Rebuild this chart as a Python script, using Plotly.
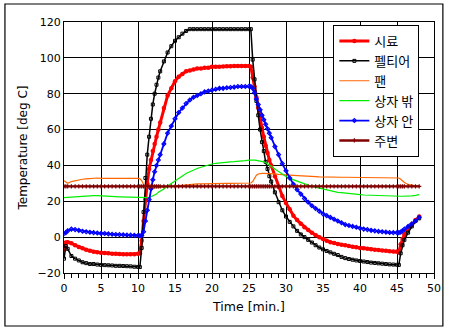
import plotly.graph_objects as go

time_min = [0, 0.25, 0.5, 1, 1.5, 2, 2.5, 3, 3.5, 4, 4.5, 5, 5.5, 6, 6.5, 7, 7.5, 8, 8.5, 9, 9.5, 10,
            10.25, 10.5, 10.75, 11, 11.25, 11.5, 11.75, 12, 12.25, 12.5, 12.75,
            13, 13.5, 14, 14.5, 15, 15.5, 16, 16.5, 17, 17.5, 18, 18.5, 19, 19.5, 20, 20.5, 21, 21.5,
            22, 22.5, 23, 23.5, 24, 24.5, 25,
            25.25, 25.5, 25.75, 26, 26.25, 26.5, 26.75, 27, 27.25, 27.5, 27.75,
            28, 28.5, 29, 29.5, 30, 30.5, 31, 31.5, 32, 32.5, 33, 33.5, 34, 34.5, 35, 35.5, 36, 36.5,
            37, 37.5, 38, 38.5, 39, 39.5, 40, 40.5, 41, 41.5, 42, 42.5, 43, 43.5, 44, 44.5, 45,
            45.25, 45.5, 45.75, 46, 46.5, 47, 47.5, 48]

sample = [-7, -3, -2.8, -3.4, -4.5, -5.5, -6.2, -7, -7.6, -8.1, -8.4, -8.7, -8.9, -9, -9.2, -9.3, -9.4, -9.5, -9.6, -9.6, -9.5, -9.3,
          -9, -2, 9, 21, 30, 38, 43, 48, 52, 56, 60,
          64, 72, 79, 83, 87, 89.5, 91, 92.5, 93, 93.5, 94, 94, 94.5, 94.5, 95, 95, 95, 95.2,
          95.3, 95.3, 95.4, 95.5, 95.5, 95.5, 95.5,
          95, 89, 84, 78, 72, 67, 61, 56, 51, 47, 43,
          40, 34, 28, 23, 19, 15.5, 12, 9.5, 7.5, 5.5, 4, 2.5, 1, 0, -1, -2, -2.8, -3.3,
          -3.8, -4.2, -4.5, -5, -5.3, -5.6, -6, -6.2, -6.5, -6.7, -7, -7.2, -7.4, -7.6, -7.8, -8, -8,
          -8.5, -4, -1, 1.5, 4.5, 7, 9.5, 11.5]

peltier = [-12, -5, -6.5, -10.5, -12, -13, -14, -14.5, -15, -15, -15.3, -15.5, -15.6, -15.7, -15.8, -16, -16, -16.1, -16.2, -16.3, -16.5, -16.6,
           -16.7, -6, 14, 33, 46, 56, 66, 74, 80, 85, 89,
           92.5, 98, 103, 106.5, 109.5, 111.5, 113.5, 115, 116, 116, 116, 116, 116, 116, 116, 116, 116, 116,
           116, 116, 116, 116, 116, 116, 116,
           116, 99, 88, 76, 68, 60, 53, 48, 42, 38, 34,
           31, 25, 19.5, 15, 11.5, 8.5, 6, 3.5, 1.5, 0, -1.5, -3, -4.5, -5.8, -6.8, -7.7, -8.5, -9.3,
           -10, -11, -11.7, -12.2, -12.6, -13, -13.3, -13.6, -13.9, -14.2, -14.4, -14.6, -14.8, -15, -15.2, -15.3, -15.4,
           -15.5, -9, -4.5, -1.5, 2.5, 6, 9, 10.5]

fan = [31.5, 30.5, 30, 31, 31.5, 32, 32.3, 32.5, 32.7, 33, 33, 32.8, 32.8, 32.9, 33, 32.9, 32.8, 32.8, 32.9, 32.8, 32.8, 32.8,
       32.5, 31.5, 29.5, 28, 27.5, 27.3, 27.2, 27.3, 27.4, 27.5, 27.7,
       28, 28.2, 28.5, 28.7, 28.9, 29, 29.2, 29.4, 29.5, 29.6, 29.7, 29.7, 29.8, 29.8, 29.8, 29.9, 29.9, 29.9,
       30, 30, 30, 30, 30, 30, 30,
       30.2, 31, 33, 34.5, 35.2, 35.5, 35.6, 35.6, 35.6, 35.6, 35.5,
       35.5, 35.3, 35, 35, 34.8, 34.6, 34.5, 34.3, 34.2, 34, 34, 33.8, 33.7, 33.6, 33.5, 33.5, 33.4, 33.4,
       33.4, 33.4, 33.4, 33.4, 33.3, 33.3, 33.3, 33.3, 33.3, 33.3, 33.2, 33.2, 33.2, 33.2, 33.2, 33.2, 33.1,
       33, 32.3, 31.3, 30.5, 29.4, 28.9, 28.6, 28.5]

box_out = [22, 22.1, 22.2, 22.4, 22.6, 22.8, 23, 23, 23.1, 23.2, 23.2, 23, 22.9, 22.8, 22.7, 22.6, 22.5, 22.4, 22.3, 22.2, 22.1, 22,
           21.9, 21.8, 21.8, 21.8, 21.9, 22, 22.5, 23, 23.5, 24, 25,
           25.5, 26.8, 28.5, 30, 31.5, 33, 34.3, 35.5, 36.5, 37.5, 38.3, 39, 39.7, 40.3, 40.8, 41.2, 41.5, 41.7,
           41.9, 42, 42.1, 42.2, 42.4, 42.7, 43,
           43.1, 43, 43, 42.8, 42.7, 42.5, 42.3, 42, 41.6, 41, 40.3,
           39.5, 38, 36.5, 35, 33.8, 32.8, 32, 31, 30.3, 29.7, 29, 28.3, 27.8, 27.2, 26.7, 26.2, 25.7, 25.2,
           25, 24.8, 24.5, 24.2, 24, 23.8, 23.7, 23.5, 23.4, 23.2, 23.1, 23, 22.9, 22.8, 22.8, 22.8, 22.8,
           22.8, 22.8, 22.8, 22.8, 22.9, 23, 23.3, 23.7]

box_in = [2, 2.5, 3.5, 4.5, 4.2, 3.8, 3.3, 3, 2.7, 2.5, 2.3, 2.1, 2, 1.8, 1.6, 1.5, 1.4, 1.3, 1.2, 1.1, 1, 0.9,
          0.8, 1, 3, 9, 15, 21, 27, 32, 36.5, 40, 43,
          46, 52, 58, 62, 66, 69.5, 72, 74.5, 76.5, 78, 79, 80, 81, 81.5, 82, 82.5, 83, 83,
          83.3, 83.5, 83.7, 84, 84, 84, 84.2,
          84, 83, 80.5, 77, 74, 71, 68, 65.5, 63, 60.5, 58,
          55.5, 50.5, 46, 41, 37, 33, 29.5, 26.5, 24, 21.5, 19.5, 17.5, 16, 14.5, 13, 12, 11, 10,
          9, 8, 7, 6.5, 6, 5.5, 5, 4.5, 4.2, 3.8, 3.5, 3.2, 3, 2.8, 2.6, 2.5, 2.5,
          2.5, 2.8, 3.5, 4.5, 6, 7.5, 9, 11]

ambient = [28.3] * len(time_min)

series = [
    ("시료", sample, "#ff0000", 3, dict(symbol="circle", size=4.5, color="#ff0000")),
    ("펠티어", peltier, "#000000", 1.5, dict(symbol="square-open", size=3, color="#000000", line=dict(width=1))),
    ("팬", fan, "#ff6600", 1.2, None),
    ("상자 밖", box_out, "#00ee00", 1.2, None),
    ("상자 안", box_in, "#0000ff", 1.8, dict(symbol="diamond-open", size=3, color="#0000ff", line=dict(width=1.2))),
    ("주변", ambient, "#800000", 2.4, dict(symbol="cross-thin-open", size=3, color="#800000", line=dict(width=1.2, color="#800000"))),
]

fig = go.Figure()
for name, vals, color, lw, marker in series:
    fig.add_trace(go.Scatter(
        x=time_min, y=vals, name=name,
        mode="lines+markers" if marker else "lines",
        line=dict(color=color, width=lw),
        marker=marker,
    ))

axis_font = dict(family="DejaVu Sans", size=11, color="#000000")
fig.update_layout(
    width=453, height=330,
    margin=dict(l=64, r=13, t=22, b=57),
    paper_bgcolor="white", plot_bgcolor="white",
    font=dict(family="DejaVu Sans, Noto Sans CJK KR", color="#000000"),
    legend=dict(
        x=0.728, y=0.988, xanchor="left", yanchor="top",
        bgcolor="white", bordercolor="black", borderwidth=1,
        font=dict(family="Noto Sans CJK KR", size=13, color="#000000"),
        tracegroupgap=0,
    ),
    shapes=[dict(type="rect", xref="paper", yref="paper",
                 x0=-0.1596, x1=1.024, y0=-0.2112, y1=1.0717,
                 line=dict(color="black", width=1.2), fillcolor="rgba(0,0,0,0)", layer="below")],
)
fig.update_xaxes(
    range=[0, 50], dtick=5, tick0=0,
    showgrid=True, gridcolor="black", gridwidth=1,
    showline=True, linecolor="black", linewidth=1, mirror=True,
    ticks="outside", ticklen=5, tickcolor="black",
    minor=dict(dtick=1, ticks="outside", ticklen=4, tickcolor="black", showgrid=False),
    tickfont=axis_font, zeroline=False,
    title=dict(text="Time [min.]", font=dict(family="DejaVu Sans", size=12.5, color="#000000"), standoff=8),
)
fig.update_yaxes(
    range=[-20, 120], dtick=20, tick0=-20,
    showgrid=True, gridcolor="black", gridwidth=1,
    showline=True, linecolor="black", linewidth=1, mirror=True,
    ticks="", tickfont=axis_font, zeroline=False,
    title=dict(text="Temperature [deg C]", font=dict(family="DejaVu Sans", size=12, color="#000000"), standoff=7),
)
fig.write_html("out.html")
